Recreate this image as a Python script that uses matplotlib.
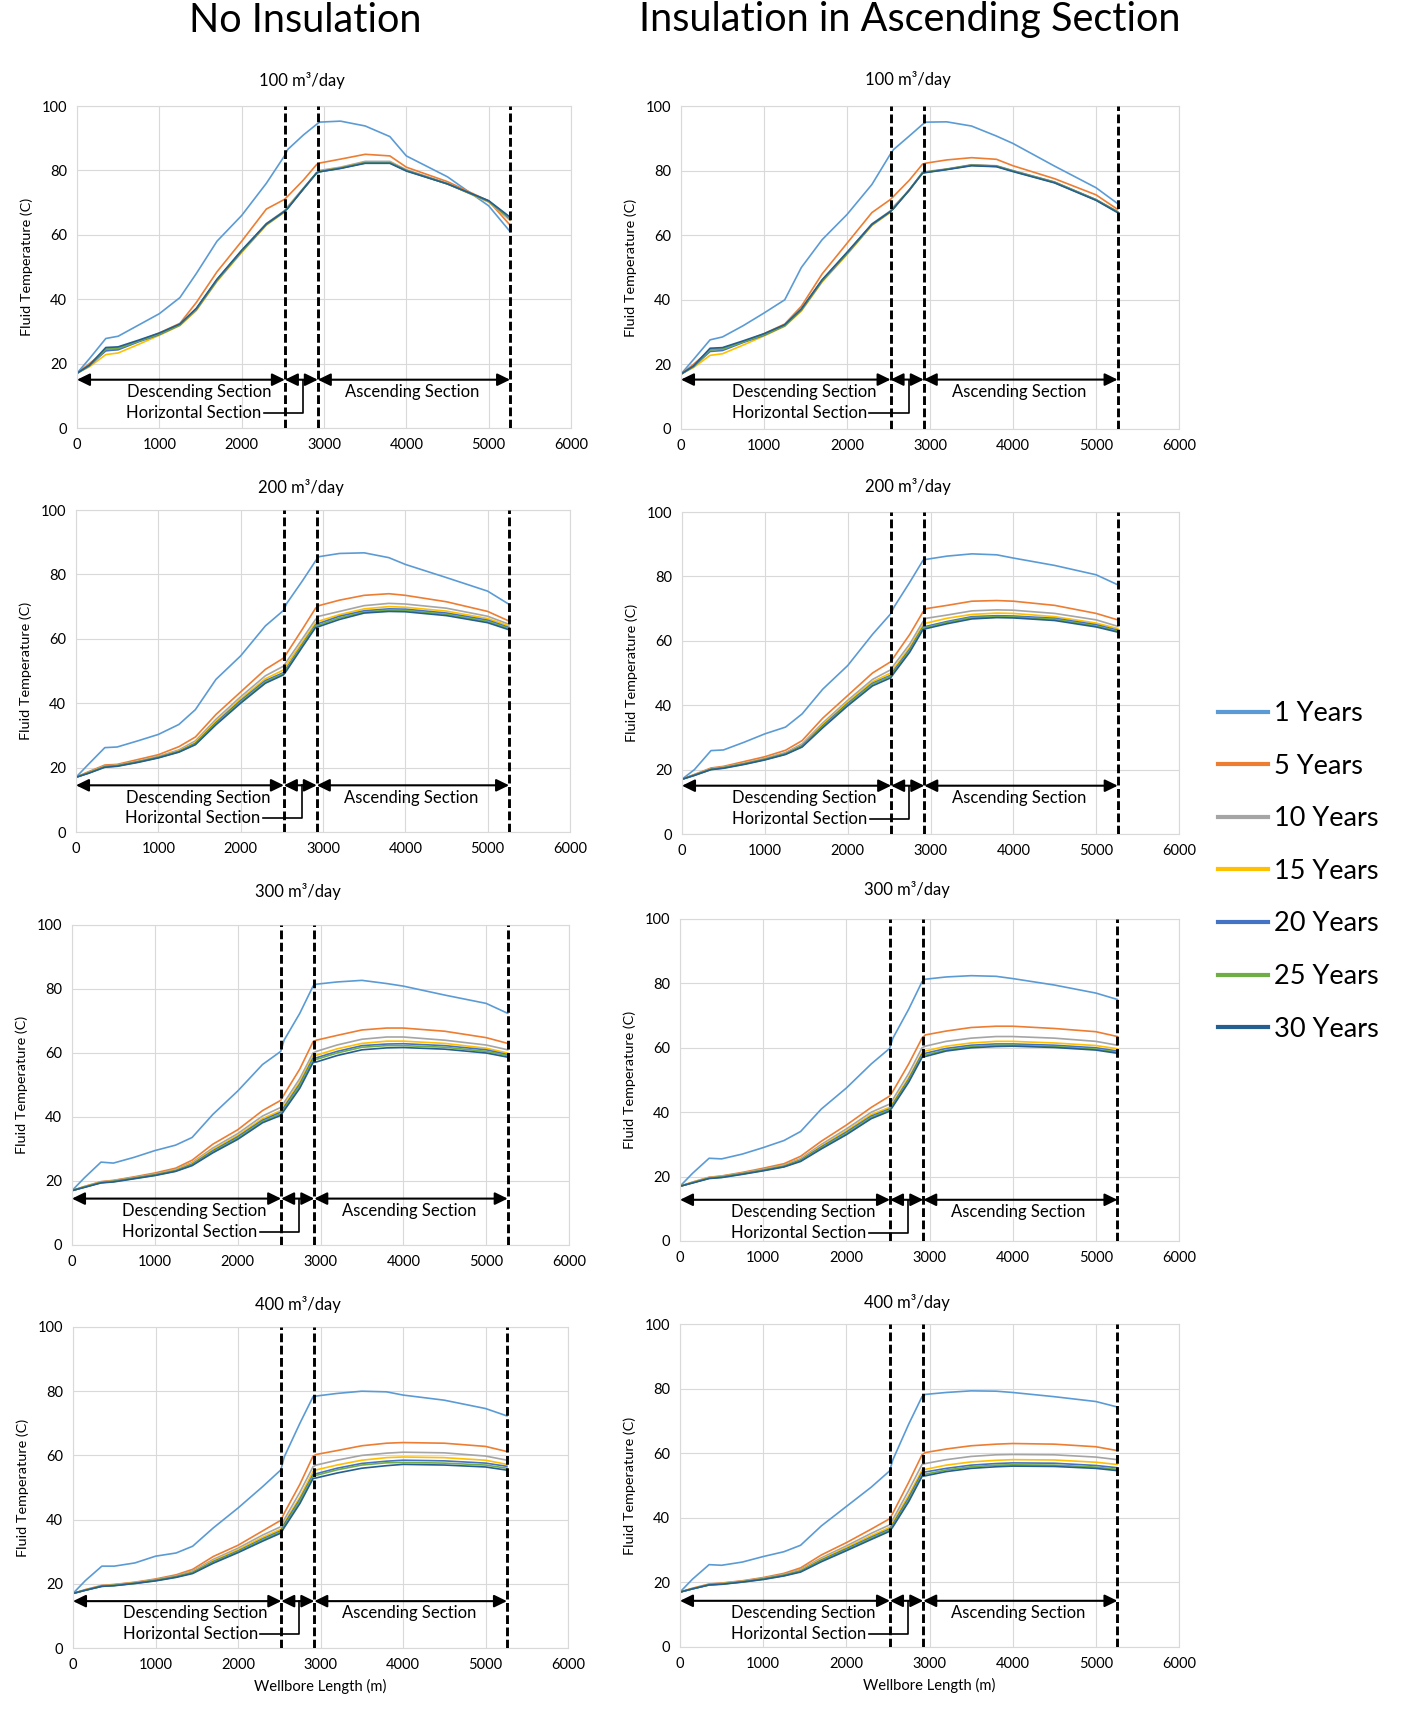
import matplotlib
matplotlib.use('Agg')
import matplotlib.pyplot as plt
from matplotlib.lines import Line2D

plt.rcParams['font.family'] = ['Lato', 'DejaVu Sans']

# wellbore length grid (m) shared by every curve
x = [0, 150, 350, 500, 750, 1000, 1250, 1450, 1700, 2000, 2300, 2520, 2560,
     2750, 2910, 2950, 3200, 3500, 3800, 4000, 4500, 5000, 5260]

years = ['1 Years', '5 Years', '10 Years', '15 Years', '20 Years', '25 Years', '30 Years']
colors = ['#5B9BD5', '#ED7D31', '#A5A5A5', '#FFC000', '#4472C4', '#70AD47', '#255E91']
rates = ['100', '200', '300', '400']
bounds = [2525, 2925, 5260]  # descending / horizontal / ascending limits

# no insulation, one row per year
none_100 = [
    [17, 21.5, 27.8, 28.5, 32.0, 35.5, 40.5, 48.0, 58.0, 66.0, 76.0, 84.5, 86.5, 91.0, 94.3, 95.0, 95.3, 93.8, 90.5, 84.5, 78.0, 69.0, 61.0],
    [17, 20.0, 24.0, 24.5, 27.0, 29.5, 32.5, 39.0, 48.5, 58.0, 68.0, 71.0, 72.0, 77.0, 81.8, 82.3, 83.5, 85.0, 84.5, 81.0, 76.5, 70.5, 63.0],
    [17, 19.5, 24.5, 25.0, 27.0, 29.2, 32.0, 37.0, 46.0, 55.0, 63.5, 67.5, 68.8, 74.5, 79.3, 80.0, 81.0, 82.8, 82.8, 80.2, 76.0, 70.2, 64.5],
    [17, 19.0, 22.8, 23.3, 26.0, 28.8, 31.8, 36.5, 45.5, 54.5, 63.0, 67.0, 68.5, 74.2, 79.2, 79.7, 80.8, 82.5, 82.5, 80.0, 75.8, 70.2, 64.8],
    [17, 19.3, 24.0, 24.3, 26.8, 29.0, 32.0, 36.8, 45.8, 54.8, 63.2, 67.2, 68.4, 74.2, 79.2, 79.6, 80.7, 82.4, 82.4, 80.0, 75.8, 70.4, 65.0],
    [17, 19.4, 24.5, 24.7, 27.0, 29.2, 32.0, 37.0, 46.0, 55.0, 63.3, 67.3, 68.3, 74.3, 79.2, 79.6, 80.7, 82.3, 82.3, 79.9, 75.8, 70.5, 65.2],
    [17, 19.5, 25.0, 25.2, 27.3, 29.5, 32.3, 37.2, 46.2, 55.2, 63.4, 67.3, 68.2, 74.3, 79.2, 79.6, 80.6, 82.2, 82.2, 79.8, 75.8, 70.6, 65.5],
]
none_200 = [
    [17, 21.0, 26.2, 26.4, 28.3, 30.3, 33.4, 38.0, 47.4, 54.7, 64.0, 68.8, 71.0, 78.0, 84.2, 85.5, 86.5, 86.7, 85.2, 83.1, 79.0, 74.8, 70.7],
    [17, 18.7, 20.8, 21.0, 22.5, 24.0, 26.5, 29.5, 36.5, 43.5, 50.5, 54.0, 55.5, 63.0, 69.5, 70.3, 72.0, 73.5, 74.0, 73.5, 71.5, 68.5, 65.5],
    [17, 18.5, 20.5, 20.8, 22.0, 23.5, 25.5, 28.3, 35.0, 42.0, 48.5, 51.5, 53.0, 60.0, 66.0, 67.0, 68.5, 70.3, 71.0, 70.8, 69.5, 67.0, 64.5],
    [17, 18.4, 20.4, 20.7, 21.9, 23.3, 25.2, 27.8, 34.3, 41.3, 47.6, 50.3, 52.0, 59.0, 65.0, 65.5, 67.5, 69.3, 70.0, 69.8, 68.6, 66.3, 64.0],
    [17, 18.3, 20.3, 20.6, 21.8, 23.2, 25.0, 27.5, 33.9, 40.8, 47.0, 49.5, 51.0, 58.3, 64.3, 64.8, 67.0, 68.7, 69.3, 69.2, 68.0, 65.8, 63.5],
    [17, 18.3, 20.2, 20.5, 21.7, 23.1, 24.9, 27.3, 33.6, 40.4, 46.6, 49.2, 50.6, 58.0, 64.0, 64.3, 66.5, 68.3, 68.9, 68.8, 67.6, 65.4, 63.2],
    [17, 18.2, 20.1, 20.4, 21.6, 23.0, 24.8, 27.1, 33.3, 40.0, 46.2, 48.8, 50.2, 57.5, 63.5, 63.8, 66.0, 68.0, 68.5, 68.4, 67.2, 65.0, 62.8],
]
none_300 = [
    [17, 21.0, 25.9, 25.6, 27.4, 29.5, 31.2, 33.6, 40.8, 48.1, 56.4, 60.5, 64.0, 72.4, 80.9, 81.5, 82.2, 82.7, 81.7, 80.9, 78.1, 75.5, 72.4],
    [17, 18.3, 19.8, 20.2, 21.3, 22.5, 24.0, 26.5, 31.5, 36.0, 42.0, 45.2, 47.0, 55.0, 63.5, 64.0, 65.5, 67.2, 67.8, 67.8, 66.8, 64.8, 63.0],
    [17, 18.2, 19.7, 20.1, 21.1, 22.2, 23.6, 25.8, 30.3, 34.8, 40.3, 43.0, 44.5, 52.0, 60.0, 60.5, 62.5, 64.3, 65.0, 65.0, 64.0, 62.5, 61.0],
    [17, 18.2, 19.6, 20.0, 21.0, 22.0, 23.4, 25.5, 29.8, 34.2, 39.5, 42.0, 43.5, 51.0, 59.0, 59.3, 61.3, 63.0, 63.7, 63.7, 63.0, 61.5, 60.0],
    [17, 18.1, 19.5, 19.9, 20.9, 21.9, 23.2, 25.2, 29.4, 33.8, 39.0, 41.5, 43.0, 50.3, 58.3, 58.5, 60.5, 62.3, 62.8, 62.9, 62.3, 61.0, 59.5],
    [17, 18.1, 19.5, 19.8, 20.8, 21.8, 23.1, 25.0, 29.1, 33.4, 38.6, 41.0, 42.5, 49.8, 57.8, 58.0, 60.0, 61.8, 62.3, 62.3, 61.8, 60.5, 59.2],
    [17, 18.0, 19.4, 19.7, 20.7, 21.7, 23.0, 24.8, 28.8, 33.0, 38.2, 40.5, 42.0, 49.0, 57.0, 57.2, 59.2, 61.0, 61.6, 61.7, 61.2, 60.0, 58.7],
]
none_400 = [
    [17, 21.0, 25.5, 25.5, 26.5, 28.6, 29.6, 31.7, 37.4, 43.6, 50.3, 55.5, 59.5, 70.0, 78.3, 78.5, 79.3, 80.0, 79.8, 78.8, 77.2, 74.6, 72.3],
    [17, 18.2, 19.5, 19.8, 20.5, 21.5, 22.8, 24.5, 28.5, 32.0, 36.5, 39.8, 42.0, 51.0, 59.8, 60.3, 61.5, 63.0, 63.8, 64.0, 63.8, 62.8, 61.2],
    [17, 18.1, 19.4, 19.7, 20.4, 21.3, 22.5, 24.0, 27.6, 31.1, 35.2, 37.8, 40.0, 48.5, 56.5, 57.0, 58.5, 60.0, 60.7, 61.0, 60.8, 59.8, 58.5],
    [17, 18.1, 19.3, 19.6, 20.3, 21.2, 22.3, 23.7, 27.2, 30.6, 34.5, 37.0, 39.0, 47.0, 55.0, 55.5, 57.0, 58.5, 59.3, 59.5, 59.3, 58.5, 57.2],
    [17, 18.0, 19.3, 19.5, 20.2, 21.1, 22.2, 23.5, 26.9, 30.2, 34.0, 36.5, 38.5, 46.3, 54.0, 54.3, 56.0, 57.5, 58.2, 58.5, 58.3, 57.6, 56.6],
    [17, 18.0, 19.2, 19.5, 20.1, 21.0, 22.1, 23.4, 26.7, 30.0, 33.7, 36.2, 38.0, 45.8, 53.5, 53.8, 55.5, 57.0, 57.7, 57.8, 57.6, 57.0, 56.0],
    [17, 18.0, 19.2, 19.4, 20.1, 20.9, 22.0, 23.2, 26.4, 29.7, 33.3, 35.8, 37.5, 45.0, 52.8, 53.0, 54.5, 56.0, 56.8, 57.2, 57.0, 56.4, 55.4],
]

# insulation in ascending section
ins_100 = [
    [17, 21.5, 27.6, 28.5, 32.0, 35.9, 40.0, 50.0, 58.6, 66.4, 75.7, 85.0, 86.5, 90.7, 94.3, 95.0, 95.1, 93.8, 90.7, 88.4, 81.4, 74.7, 69.8],
    [17, 20.0, 24.5, 25.0, 27.0, 29.5, 32.5, 38.0, 48.0, 57.5, 67.0, 71.0, 72.0, 77.0, 82.0, 82.3, 83.3, 84.0, 83.5, 81.5, 77.5, 72.5, 68.0],
    [17, 19.5, 24.5, 25.0, 27.0, 29.2, 32.0, 37.0, 46.0, 54.5, 63.5, 67.5, 68.8, 74.0, 79.5, 79.7, 80.5, 81.8, 81.5, 80.0, 76.5, 71.0, 67.3],
    [17, 19.0, 22.8, 23.3, 26.0, 28.8, 31.8, 36.5, 45.5, 54.0, 63.0, 67.0, 68.5, 73.8, 79.3, 79.5, 80.4, 81.7, 81.4, 79.9, 76.4, 71.0, 67.3],
    [17, 19.3, 24.0, 24.3, 26.8, 29.0, 32.0, 36.8, 45.8, 54.3, 63.2, 67.2, 68.4, 73.9, 79.3, 79.5, 80.4, 81.7, 81.4, 79.9, 76.4, 71.0, 67.2],
    [17, 19.4, 24.5, 24.7, 27.0, 29.2, 32.0, 37.0, 46.0, 54.5, 63.3, 67.3, 68.3, 74.0, 79.3, 79.5, 80.4, 81.6, 81.3, 79.8, 76.3, 70.9, 67.1],
    [17, 19.5, 25.0, 25.2, 27.3, 29.5, 32.3, 37.2, 46.2, 54.7, 63.4, 67.3, 68.2, 74.0, 79.2, 79.4, 80.3, 81.5, 81.2, 79.7, 76.2, 70.8, 67.0],
]
ins_200 = [
    [17, 20.0, 25.9, 26.1, 28.5, 31.1, 33.2, 37.3, 45.0, 52.3, 62.0, 68.4, 70.5, 78.2, 85.0, 85.3, 86.3, 87.0, 86.7, 85.7, 83.4, 80.5, 77.4],
    [17, 18.5, 20.5, 21.0, 22.5, 24.0, 26.0, 29.0, 36.0, 43.0, 50.0, 53.5, 55.0, 62.0, 69.0, 70.0, 71.0, 72.3, 72.5, 72.3, 71.0, 68.5, 66.5],
    [17, 18.4, 20.3, 20.8, 22.0, 23.5, 25.3, 28.0, 34.5, 41.5, 48.0, 51.0, 52.5, 59.0, 66.0, 67.0, 68.0, 69.3, 69.6, 69.5, 68.5, 66.5, 64.5],
    [17, 18.3, 20.2, 20.7, 21.9, 23.3, 25.0, 27.6, 34.0, 41.0, 47.3, 50.0, 51.5, 58.0, 65.0, 65.5, 67.0, 68.2, 68.6, 68.5, 67.5, 65.5, 63.8],
    [17, 18.3, 20.1, 20.6, 21.8, 23.2, 24.9, 27.4, 33.6, 40.5, 46.8, 49.3, 50.8, 57.4, 64.3, 64.5, 66.0, 67.5, 67.8, 67.7, 67.0, 65.0, 63.3],
    [17, 18.2, 20.0, 20.5, 21.7, 23.1, 24.8, 27.2, 33.3, 40.2, 46.5, 49.0, 50.4, 57.0, 64.0, 64.2, 65.7, 67.2, 67.5, 67.4, 66.7, 64.6, 63.0],
    [17, 18.2, 20.0, 20.4, 21.6, 23.0, 24.7, 27.0, 33.0, 39.8, 46.0, 48.5, 50.0, 56.5, 63.5, 63.8, 65.3, 66.8, 67.2, 67.1, 66.3, 64.3, 62.7],
]
ins_300 = [
    [17, 21.0, 25.7, 25.5, 27.0, 29.0, 31.2, 34.0, 41.0, 47.5, 55.0, 59.8, 63.0, 72.0, 80.5, 81.3, 82.0, 82.4, 82.2, 81.5, 79.5, 77.0, 75.0],
    [17, 18.3, 19.8, 20.2, 21.3, 22.6, 24.0, 26.3, 31.0, 36.0, 41.5, 45.0, 46.5, 55.0, 63.0, 64.0, 65.2, 66.3, 66.7, 66.7, 66.0, 65.0, 63.5],
    [17, 18.2, 19.7, 20.1, 21.1, 22.3, 23.6, 25.6, 30.0, 34.8, 40.0, 42.5, 44.0, 52.0, 60.0, 60.5, 62.0, 63.0, 63.5, 63.5, 63.0, 62.0, 60.8],
    [17, 18.2, 19.6, 20.0, 21.0, 22.1, 23.4, 25.3, 29.5, 34.2, 39.3, 41.5, 43.0, 50.8, 58.5, 59.0, 60.5, 61.5, 62.0, 62.0, 61.5, 60.7, 59.7],
    [17, 18.1, 19.5, 19.9, 20.9, 22.0, 23.2, 25.1, 29.2, 33.8, 38.8, 41.0, 42.5, 50.2, 58.0, 58.3, 59.8, 60.8, 61.2, 61.2, 60.8, 60.0, 59.0],
    [17, 18.1, 19.5, 19.8, 20.8, 21.9, 23.1, 24.9, 28.9, 33.4, 38.4, 40.7, 42.2, 49.8, 57.5, 57.8, 59.3, 60.4, 60.8, 60.8, 60.4, 59.6, 58.6],
    [17, 18.0, 19.4, 19.7, 20.7, 21.8, 23.0, 24.7, 28.6, 33.0, 38.0, 40.3, 41.8, 49.3, 57.0, 57.3, 59.0, 60.0, 60.4, 60.5, 60.1, 59.3, 58.3],
]
ins_400 = [
    [17, 21.0, 25.5, 25.3, 26.3, 28.0, 29.5, 31.5, 37.5, 43.5, 49.5, 54.5, 58.0, 69.0, 77.5, 78.2, 78.8, 79.3, 79.2, 78.8, 77.5, 76.0, 74.3],
    [17, 18.2, 19.5, 19.8, 20.5, 21.5, 22.8, 24.5, 28.5, 32.3, 36.5, 39.7, 41.5, 51.0, 59.5, 60.2, 61.3, 62.3, 62.8, 63.0, 62.8, 62.0, 60.8],
    [17, 18.1, 19.4, 19.7, 20.4, 21.3, 22.5, 24.0, 27.6, 31.3, 35.2, 37.8, 39.5, 48.5, 56.5, 56.8, 58.0, 59.0, 59.5, 59.6, 59.5, 58.8, 58.0],
    [17, 18.1, 19.3, 19.6, 20.3, 21.2, 22.3, 23.7, 27.2, 30.8, 34.5, 37.0, 38.6, 47.0, 54.8, 55.0, 56.3, 57.3, 57.8, 58.0, 57.9, 57.2, 56.5],
    [17, 18.0, 19.3, 19.5, 20.2, 21.1, 22.2, 23.5, 26.9, 30.4, 34.0, 36.5, 38.0, 46.2, 54.0, 54.2, 55.3, 56.3, 56.8, 57.0, 56.9, 56.2, 55.5],
    [17, 18.0, 19.2, 19.5, 20.1, 21.0, 22.1, 23.4, 26.7, 30.1, 33.7, 36.2, 37.6, 45.6, 53.3, 53.5, 54.8, 55.8, 56.3, 56.4, 56.3, 55.7, 55.0],
    [17, 18.0, 19.2, 19.4, 20.1, 20.9, 22.0, 23.2, 26.4, 29.8, 33.3, 35.8, 37.2, 45.0, 52.8, 53.0, 54.3, 55.3, 55.8, 56.0, 55.9, 55.3, 54.6],
]

W, H = 1402, 1716
fig = plt.figure(figsize=(W / 100, H / 100), dpi=100)

# axes boxes in pixels: left, top, right, bottom ; arrow height and title pad per panel
left_boxes = [(77, 106, 571, 428), (76, 510, 570, 832), (72, 925, 569, 1245), (73, 1327, 568, 1648)]
right_boxes = [(681, 106, 1179, 429), (682, 512, 1179, 834), (680, 919, 1179, 1241), (680, 1324, 1179, 1647)]
left_arrow_y = [15.0, 14.5, 14.5, 14.6]
right_arrow_y = [15.3, 15.0, 12.8, 14.3]
left_pads = [14.5, 12.2, 20.5, 12.2]
right_pads = [15.3, 14.5, 17.5, 11.4]


def sections(ax, ya):
    head = '<|-|>,head_length=0.45,head_width=0.22'
    edges = [0] + bounds
    for a, b in zip(edges[:-1], edges[1:]):
        ax.annotate('', xy=(b, ya), xytext=(a, ya),
                    arrowprops=dict(arrowstyle=head, color='k', lw=1.5,
                                    mutation_scale=17, shrinkA=0, shrinkB=0))
    ax.text(1480, ya - 3.8, 'Descending Section', ha='center', va='center', fontsize=12)
    ax.text(4070, ya - 3.8, 'Ascending Section', ha='center', va='center', fontsize=12)
    ax.text(2240, ya - 10.3, 'Horizontal Section', ha='right', va='center', fontsize=12)
    ax.plot([2270, 2745, 2745], [ya - 10.3, ya - 10.3, ya], color='k', lw=1.2)


def panel(box, series, rate, ya, pad, bottom):
    l, t, r, b = box
    ax = fig.add_axes([l / W, 1 - b / H, (r - l) / W, (b - t) / H])
    for ys, c in zip(series, colors):
        ax.plot(x, ys, color=c, lw=1.2)
    for d in bounds:
        ax.axvline(d, color='k', lw=2.1, ls=(0, (3, 1.2)), zorder=4)
    sections(ax, ya)
    ax.set_xlim(0, 6000)
    ax.set_ylim(0, 100)
    ax.set_xticks(range(0, 6001, 1000))
    ax.set_yticks(range(0, 101, 20))
    ax.grid(color='#D9D9D9', lw=0.8)
    ax.set_axisbelow(True)
    ax.tick_params(length=0, labelsize=10.5, pad=7)
    for sp in ax.spines.values():
        sp.set_color('#D9D9D9')
    ax.set_ylabel('Fluid Temperature (C)', fontsize=10.4, labelpad=6)
    ax.set_title(rate + ' m³/day', fontsize=12, pad=pad, x=0.455)
    if bottom:
        ax.set_xlabel('Wellbore Length (m)', fontsize=10.6, labelpad=5)
    return ax


none_sets = [none_100, none_200, none_300, none_400]
ins_sets = [ins_100, ins_200, ins_300, ins_400]
for i in range(4):
    panel(left_boxes[i], none_sets[i], rates[i], left_arrow_y[i], left_pads[i], i == 3)
    panel(right_boxes[i], ins_sets[i], rates[i], right_arrow_y[i], right_pads[i], i == 3)

fig.text(305 / W, 1 - 20 / H, 'No Insulation', ha='center', va='center', fontsize=28.5)
fig.text(910 / W, 1 - 20 / H, 'Insulation in Ascending Section', ha='center', va='center', fontsize=28.5)

handles = [Line2D([], [], color=c, lw=3) for c in colors]
fig.legend(handles, years, loc='upper left', bbox_to_anchor=(1218 / W, 1 - 701 / H),
           frameon=False, fontsize=19.5, handlelength=1.85, handletextpad=0.2,
           labelspacing=1.02, borderpad=0, borderaxespad=0)

fig.savefig('out.png', dpi=100)
